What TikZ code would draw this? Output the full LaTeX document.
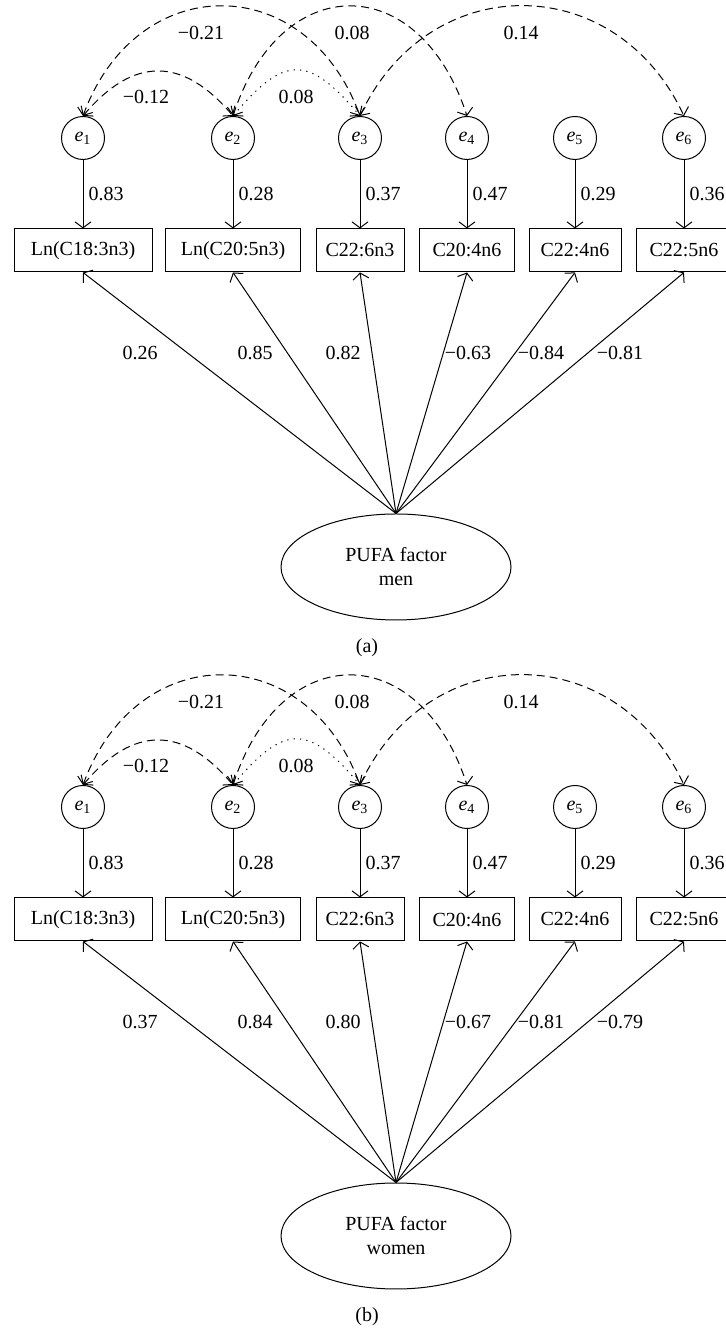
\documentclass[tikz,border=0pt]{standalone}
\usepackage{fontspec}
\setmainfont{Liberation Serif}
\usetikzlibrary{arrows.meta,shapes.geometric}

% one SEM panel: #1 prefix, #2 vertical shift, #3 group, #4 loadings (x/value), #5 caption
\newcommand{\pufapanel}[5]{%
\begin{scope}[shift={(0,#2)}]
\foreach \x/\w/\lab/\ev [count=\i] in {83/69pt/Ln(C18:3n3)/0.83, 233/67.5pt/Ln(C20:5n3)/0.28, 360/44pt/C22:6n3/0.37, 467/47.5pt/C20:4n6/0.47, 575/46pt/C22:4n6/0.29, 684/47.5pt/C22:5n6/0.36}{
  \node[errnode] (#1e\i) at (\x,531) {\textit{e}\textsubscript{\i}};
  \node[varbox,minimum width=\w] (#1v\i) at (\x,418.5) {\lab};
  \draw[->] (#1e\i) -- node[right,inner sep=2.5pt] {\ev} (#1v\i);
}
\node[factornode] (#1fac) at (396,102) {PUFA factor\\#3};
\foreach \lx/\lv [count=\i] in {#4}{
  \draw[->] (#1fac.north) -- (#1v\i.south);
  \node (#1load\i) at (\lx,316) {\lv};
}
% correlated errors
\draw[covpath] (#1e1.north) .. controls +(70:156) and +(110:156) .. (#1e3.north);
\draw[covpath] (#1e1.north) .. controls +(50:78) and +(130:78) .. (#1e2.north);
\draw[covpath,dash pattern=on 0.6pt off 2.6pt] (#1e2.north) .. controls +(50:80) and +(130:80) .. (#1e3.north);
\draw[covpath] (#1e2.north) .. controls +(72:154) and +(108:154) .. (#1e4.north);
\draw[covpath] (#1e3.north) .. controls +(65:162) and +(115:162) .. (#1e6.north);
\node (#1c13) at (201,636) {−0.21};
\node (#1c24) at (352,636) {0.08};
\node (#1c36) at (521,636) {0.14};
\node (#1c12) at (146,572) {−0.12};
\node (#1c23) at (296,572) {0.08};
\node (#1cap) at (367,21) {(#5)};
\end{scope}}

\begin{document}
\begin{tikzpicture}[x=0.5pt,y=0.5pt,line width=0.5pt,
  >={Straight Barb[length=3pt,width=8pt]},
  errnode/.style={circle,draw,minimum size=21.5pt,inner sep=0pt},
  varbox/.style={draw,minimum height=21.5pt,inner sep=2pt},
  factornode/.style={ellipse,draw,minimum width=115pt,minimum height=53pt,inner sep=0pt,align=center},
  covpath/.style={<->,dash pattern=on 4pt off 2.5pt}]
\useasboundingbox (0,0) rectangle (725,1331);
\pufapanel{a}{662}{men}{140/0.26, 255/0.85, 343/0.82, 468/−0.63, 541/−0.84, 620/−0.81}{a}
\pufapanel{b}{-7}{women}{140/0.37, 255/0.84, 343/0.80, 468/−0.67, 541/−0.81, 620/−0.79}{b}
\end{tikzpicture}
\end{document}
